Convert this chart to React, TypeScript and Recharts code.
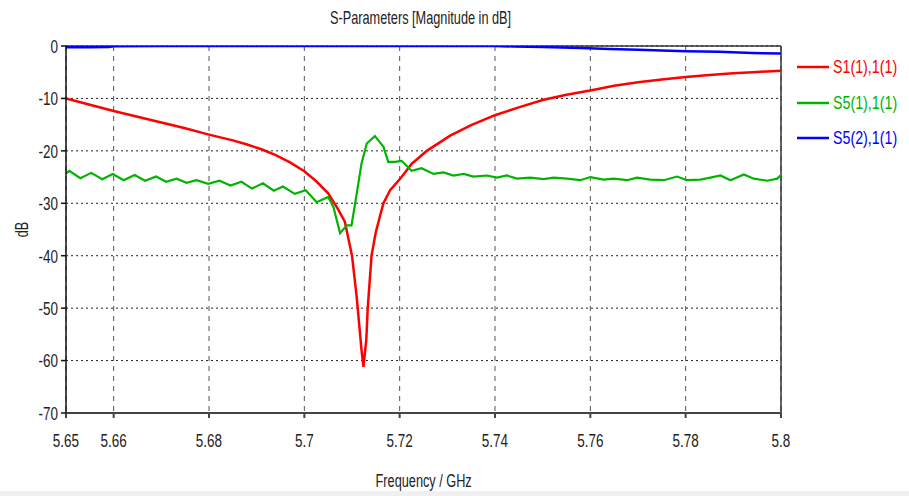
import {
  LineChart,
  Line,
  XAxis,
  YAxis,
  CartesianGrid,
  ReferenceLine,
} from "recharts";

const FONT = "'Liberation Sans', Arial, sans-serif";
const TICK_SQUEEZE = 0.71;
const TEXT_SQUEEZE = 0.67;

const xTicks = [5.65, 5.66, 5.68, 5.7, 5.72, 5.74, 5.76, 5.78, 5.8];
const yTicks = [-70, -60, -50, -40, -30, -20, -10, 0];

// S1(1),1(1)
const s11Freq = [
  5.65, 5.655, 5.66, 5.665, 5.67, 5.675, 5.68, 5.685, 5.688, 5.691, 5.694,
  5.697, 5.7, 5.7025, 5.705, 5.707, 5.7085, 5.71, 5.711, 5.712, 5.7124,
  5.713, 5.7133, 5.7141, 5.715, 5.716, 5.7166, 5.718, 5.7204, 5.7225,
  5.7257, 5.7306, 5.735, 5.74, 5.745, 5.75, 5.755, 5.76, 5.765, 5.77,
  5.775, 5.78, 5.785, 5.79, 5.795, 5.8,
];
const s11Db = [
  -10, -11.2, -12.4, -13.5, -14.6, -15.7, -16.9, -18.0, -18.8, -19.7, -20.8,
  -22.2, -23.9, -25.8, -28.1, -31, -33.5, -40, -48, -58, -61.2,
  -56, -50, -40, -35.5, -32, -30, -27.5, -25, -22.5,
  -20, -17.1, -15.1, -13.2, -11.7, -10.3, -9.3, -8.5, -7.6, -6.9,
  -6.4, -5.9, -5.55, -5.2, -4.95, -4.7,
];

// S5(1),1(1)
const s51Freq = [
  5.65, 5.6507, 5.653, 5.6553, 5.6576, 5.6598, 5.6621, 5.6644, 5.6666,
  5.6689, 5.671, 5.6732, 5.6753, 5.6774, 5.6798, 5.6822, 5.6845, 5.6868,
  5.689, 5.6913, 5.6936, 5.6955, 5.698, 5.7003, 5.7026, 5.705, 5.7061,
  5.7075, 5.7089, 5.7099, 5.711, 5.712, 5.7131, 5.7148, 5.7166, 5.7176,
  5.719, 5.7204, 5.7225, 5.7246, 5.7271, 5.7292, 5.7313, 5.7334, 5.7355,
  5.7383, 5.7404, 5.7425, 5.7446, 5.7474, 5.7502, 5.7523, 5.7551, 5.7579,
  5.76, 5.7628, 5.7649, 5.7677, 5.7698, 5.7726, 5.7754, 5.7782, 5.7803,
  5.7831, 5.7852, 5.7873, 5.7894, 5.7922, 5.7943, 5.7971, 5.7992, 5.8,
];
const s51Db = [
  -24.3, -23.8, -25.2, -24.2, -25.4, -24.4, -25.6, -24.6, -25.7,
  -24.9, -25.9, -25.3, -26.1, -25.6, -26.3, -25.7, -26.6, -25.9,
  -27.2, -26.2, -27.6, -26.8, -28.2, -27.5, -29.8, -28.8, -30.7,
  -35.7, -34.2, -34.2, -28.1, -22.4, -18.6, -17.2, -19.2, -22.1,
  -22.1, -21.9, -23.8, -23.3, -24.4, -24.1, -24.7, -24.4, -24.9,
  -24.7, -25.1, -24.7, -25.3, -25.1, -25.4, -25.1, -25.3, -25.6,
  -25.0, -25.5, -25.3, -25.6, -25.1, -25.5, -25.6, -24.9, -25.6,
  -25.5, -25.1, -24.7, -25.6, -24.5, -25.3, -25.7, -25.3, -24.6,
];

// S5(2),1(1)
const s52Freq = [
  5.65, 5.655, 5.659, 5.66, 5.67, 5.7, 5.73, 5.74, 5.744, 5.75, 5.758,
  5.764, 5.77, 5.775, 5.78, 5.787, 5.794, 5.8,
];
const s52Db = [
  -0.25, -0.25, -0.2, -0.05, 0, 0, 0, 0, -0.1, -0.2, -0.4,
  -0.55, -0.7, -0.85, -1.0, -1.1, -1.35, -1.45,
];

const s11 = s11Freq.map((f, i) => ({ f, db: s11Db[i] }));
const s51 = s51Freq.map((f, i) => ({ f, db: s51Db[i] }));
const s52 = s52Freq.map((f, i) => ({ f, db: s52Db[i] }));

const legendItems = [
  { name: "S1(1),1(1)", color: "#ff0000" },
  { name: "S5(1),1(1)", color: "#00b400" },
  { name: "S5(2),1(1)", color: "#0000ff" },
];

function Squeezed({ children, size = 19, color = "#222", squeeze = TEXT_SQUEEZE }: any) {
  return (
    <span
      style={{
        display: "inline-block",
        fontSize: size,
        color,
        transform: `scaleX(${squeeze})`,
        transformOrigin: "left center",
        whiteSpace: "nowrap",
      }}
    >
      {children}
    </span>
  );
}

function XTick({ x, y, payload }: any) {
  return (
    <g transform={`translate(${x},${y})`}>
      <text
        transform={`scale(${TICK_SQUEEZE},1)`}
        textAnchor="middle"
        dy="0.72em"
        fill="#222"
        fontSize={19}
        fontFamily={FONT}
      >
        {payload.value}
      </text>
    </g>
  );
}

function YTick({ x, y, payload }: any) {
  return (
    <g transform={`translate(${x},${y})`}>
      <text
        transform={`scale(${TICK_SQUEEZE},1)`}
        textAnchor="end"
        dy="0.36em"
        fill="#222"
        fontSize={19}
        fontFamily={FONT}
      >
        {payload.value}
      </text>
    </g>
  );
}

export default function App() {
  return (
    <div
      style={{
        position: "absolute",
        top: 0,
        left: 0,
        width: 909,
        height: 496,
        background: "#fff",
        fontFamily: FONT,
      }}
    >
      <div
        style={{
          position: "absolute",
          top: 7,
          left: 424 - 141 * TEXT_SQUEEZE,
          lineHeight: "22px",
        }}
      >
        <Squeezed size={19}>S-Parameters [Magnitude in dB]</Squeezed>
      </div>
      <div
        style={{
          position: "absolute",
          left: 22 - 11,
          top: 230 - 11,
          width: 22,
          height: 22,
          lineHeight: "22px",
          textAlign: "center",
          fontSize: 19,
          color: "#222",
          transform: `rotate(-90deg) scaleX(${TEXT_SQUEEZE})`,
        }}
      >
        dB
      </div>
      <div style={{ position: "absolute", top: 49.5, left: 796 }}>
        {legendItems.map((it) => (
          <div
            key={it.name}
            style={{ display: "flex", alignItems: "center", height: 35.5 }}
          >
            <svg width={37} height={6} style={{ flex: "none" }}>
              <line x1={1} y1={3} x2={33} y2={3} stroke={it.color} strokeWidth={2.5} />
            </svg>
            <Squeezed size={19} color={it.color} squeeze={0.75}>
              {it.name}
            </Squeezed>
          </div>
        ))}
      </div>
      <LineChart
        width={909}
        height={496}
        margin={{ top: 46, right: 128, bottom: 0, left: 0 }}
      >
        <CartesianGrid horizontal={false} stroke="#555" strokeDasharray="5 5" />
        <CartesianGrid vertical={false} stroke="#222" strokeDasharray="2 3" />
        <XAxis
          type="number"
          dataKey="f"
          domain={[5.65, 5.8]}
          ticks={xTicks}
          allowDataOverflow
          stroke="#444"
          strokeWidth={2}
          tickSize={5}
          tickMargin={15}
          height={83}
          tick={<XTick />}
          label={{
            value: "Frequency / GHz",
            position: "insideBottom",
            offset: 9,
            style: {
              fill: "#222",
              fontSize: 19,
              fontFamily: FONT,
              transform: `scaleX(${TEXT_SQUEEZE})`,
              transformOrigin: "424px 478px",
              transformBox: "view-box",
            },
          }}
        />
        <YAxis
          type="number"
          domain={[-70, 0]}
          ticks={yTicks}
          allowDataOverflow
          width={66}
          stroke="#111"
          strokeWidth={1.5}
          tickSize={5}
          tickMargin={3}
          tick={<YTick />}
        />
        <ReferenceLine y={0} stroke="#333" strokeWidth={1.5} />
        <ReferenceLine x={5.8} stroke="#333" strokeWidth={1.5} />
        <Line
          data={s11}
          dataKey="db"
          name="S1(1),1(1)"
          type="linear"
          stroke="#ff0000"
          strokeWidth={2.5}
          dot={false}
          isAnimationActive={false}
        />
        <Line
          data={s51}
          dataKey="db"
          name="S5(1),1(1)"
          type="linear"
          stroke="#00b400"
          strokeWidth={2.2}
          dot={false}
          isAnimationActive={false}
        />
        <Line
          data={s52}
          dataKey="db"
          name="S5(2),1(1)"
          type="linear"
          stroke="#0000ff"
          strokeWidth={2.5}
          dot={false}
          isAnimationActive={false}
        />
      </LineChart>
      <div
        style={{
          position: "absolute",
          top: 491,
          left: 0,
          width: 909,
          height: 5,
          background: "#f0f0f0",
        }}
      />
    </div>
  );
}
